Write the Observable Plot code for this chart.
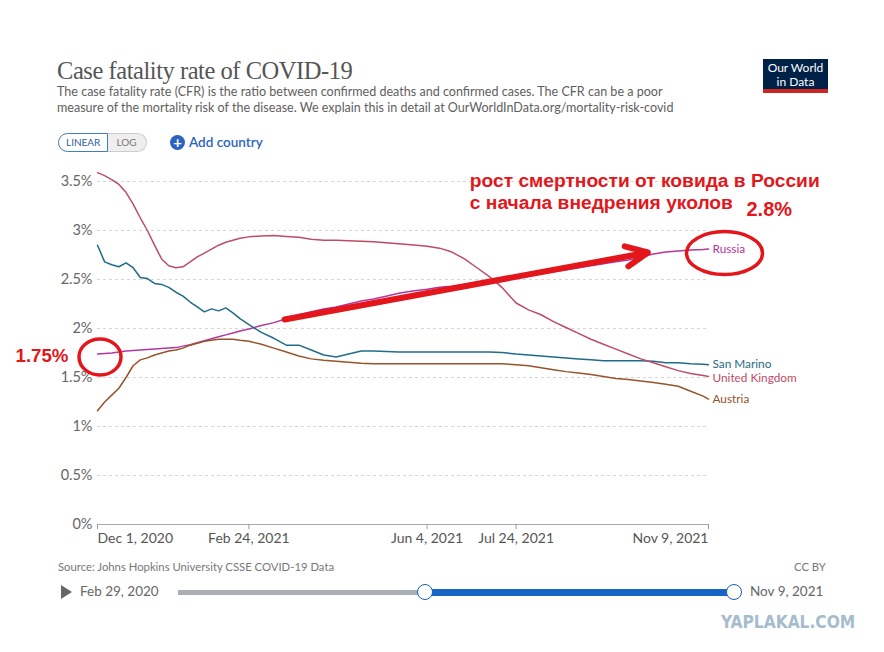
<!DOCTYPE html>
<html><head><meta charset="utf-8">
<script src="https://cdn.jsdelivr.net/npm/d3@7"></script>
<script src="https://cdn.jsdelivr.net/npm/@observablehq/plot@0.6"></script>
<style>
body{margin:0;background:#fff;font-family:Lato,"Noto Sans",sans-serif;}
#wrap{position:relative;width:884px;height:652px;overflow:hidden;background:#fff;}
.abs{position:absolute;white-space:nowrap;}
#title{left:57px;top:56px;font-family:"Liberation Serif",serif;font-size:24.5px;color:#555;line-height:30px;letter-spacing:-0.45px;}
#sub{left:57px;top:84px;font-size:12.55px;color:#5e5e5e;line-height:16px;}
#logo{left:763px;top:59px;width:65px;height:34px;background:#002147;color:#fff;text-align:center;font-size:12px;line-height:13.5px;box-sizing:border-box;padding-top:2px;border-bottom:4px solid #ce261e;}
#toggle{left:58px;top:133px;height:19px;display:flex;font-size:10px;}
#toggle .lin{border:1px solid #3d7ec6;border-radius:10px 0 0 10px;color:#2e5f9e;padding:0 7px;line-height:17px;background:#fff;}
#toggle .log{border:1px solid #ccc;border-left:none;border-radius:0 10px 10px 0;color:#777;padding:0 9px 0 8px;line-height:17px;background:#efefef;}
#add{left:170px;top:133px;font-size:13.5px;color:#2a64c0;line-height:18px;display:flex;align-items:center;font-weight:600;}
#add .ic{width:15px;height:15px;border-radius:50%;background:#2a64c0;color:#fff;font-size:15px;line-height:15px;text-align:center;margin-right:4px;font-weight:bold;}
#plot{left:0;top:160px;}
#src{left:58px;top:560px;font-size:11.3px;color:#777;}
#cc{left:794px;top:560px;font-size:11.3px;color:#777;}
#play{left:61px;top:585px;width:0;height:0;border-top:7px solid transparent;border-bottom:7px solid transparent;border-left:11px solid #666;}
#d0{left:80px;top:583px;font-size:13.5px;color:#666;}
#d1{left:750px;top:583px;font-size:13.5px;color:#666;}
#trackg{left:178px;top:590px;width:247px;height:5px;background:#a9aeb4;}
#trackb{left:425px;top:589px;width:309px;height:7px;background:#1766c6;}
.h{width:14px;height:14px;border-radius:50%;background:#fff;border:1.5px solid #1a5fb4;top:584px;}
#wm{left:721px;top:612px;font-family:"DejaVu Sans Condensed","DejaVu Sans",sans-serif;font-stretch:condensed;font-weight:bold;font-size:17.2px;color:#a5bccd;line-height:20px;}
</style></head><body>
<div id="wrap">
  <div id="title" class="abs">Case fatality rate of COVID-19</div>
  <div id="sub" class="abs">The case fatality rate (CFR) is the ratio between confirmed deaths and confirmed cases. The CFR can be a poor<br>measure of the mortality risk of the disease. We explain this in detail at OurWorldInData.org/mortality-risk-covid</div>
  <div id="logo" class="abs">Our World<br>in Data</div>
  <div id="toggle" class="abs"><div class="lin">LINEAR</div><div class="log">LOG</div></div>
  <div id="add" class="abs"><div class="ic">+</div>Add country</div>
  <div id="plot" class="abs"></div>
  <div id="src" class="abs">Source: Johns Hopkins University CSSE COVID-19 Data</div>
  <div id="cc" class="abs">CC BY</div>
  <div id="play" class="abs"></div>
  <div id="d0" class="abs">Feb 29, 2020</div>
  <div id="trackg" class="abs"></div>
  <div id="trackb" class="abs"></div>
  <div class="abs h" style="left:417px"></div>
  <div class="abs h" style="left:726px"></div>
  <div id="d1" class="abs">Nov 9, 2021</div>
  <div id="wm" class="abs">YAPLAKAL.COM</div>
</div>
<script>
const dates = ["2020-12-01","2020-12-05","2020-12-09","2020-12-13","2020-12-17","2020-12-21","2020-12-25","2020-12-29",
"2021-01-02","2021-01-06","2021-01-10","2021-01-14","2021-01-18","2021-01-22","2021-01-26","2021-01-30",
"2021-02-03","2021-02-07","2021-02-11","2021-02-15","2021-02-19","2021-02-24",
"2021-03-03","2021-03-10","2021-03-17","2021-03-24","2021-03-31",
"2021-04-07","2021-04-14","2021-04-21","2021-04-28",
"2021-05-05","2021-05-12","2021-05-19","2021-05-26",
"2021-06-04","2021-06-11","2021-06-18","2021-06-25",
"2021-07-02","2021-07-09","2021-07-16","2021-07-24","2021-07-31",
"2021-08-07","2021-08-14","2021-08-21","2021-08-28",
"2021-09-04","2021-09-11","2021-09-18","2021-09-25",
"2021-10-02","2021-10-09","2021-10-16","2021-10-23","2021-10-30",
"2021-11-06","2021-11-09"];

const unitedKingdom = [3.59,3.56,3.52,3.47,3.39,3.27,3.13,3.00,
2.85,2.71,2.64,2.62,2.63,2.68,2.73,2.77,
2.81,2.85,2.88,2.90,2.92,2.935,
2.945,2.95,2.94,2.93,2.91,
2.90,2.90,2.895,2.89,
2.885,2.875,2.865,2.855,
2.84,2.82,2.78,2.71,
2.62,2.53,2.42,2.26,2.19,
2.14,2.07,2.01,1.95,
1.89,1.84,1.79,1.74,
1.69,1.65,1.61,1.57,1.54,
1.52,1.51];

const sanMarino = [2.85,2.68,2.65,2.63,2.67,2.62,2.52,2.51,
2.46,2.45,2.42,2.37,2.33,2.27,2.22,2.17,
2.20,2.18,2.21,2.16,2.10,2.04,
1.96,1.90,1.83,1.83,1.78,
1.73,1.71,1.74,1.77,
1.77,1.765,1.76,1.76,
1.76,1.76,1.76,1.76,
1.76,1.76,1.755,1.74,1.73,
1.72,1.71,1.70,1.69,
1.68,1.67,1.67,1.67,
1.67,1.665,1.65,1.65,1.64,
1.635,1.63];

const austria = [1.16,1.25,1.32,1.39,1.50,1.62,1.68,1.70,
1.73,1.75,1.77,1.78,1.80,1.83,1.85,1.87,
1.88,1.89,1.89,1.89,1.88,1.87,
1.84,1.80,1.76,1.72,1.69,
1.675,1.665,1.655,1.645,
1.64,1.64,1.64,1.64,
1.64,1.64,1.64,1.64,
1.64,1.64,1.64,1.63,1.62,
1.60,1.58,1.56,1.545,
1.53,1.51,1.49,1.48,
1.465,1.45,1.43,1.41,1.36,
1.31,1.28];

const russia = [1.74,1.745,1.75,1.76,1.77,1.775,1.78,1.785,
1.79,1.795,1.80,1.805,1.82,1.835,1.855,1.875,
1.895,1.915,1.935,1.955,1.975,1.995,
2.03,2.06,2.10,2.14,2.17,
2.20,2.22,2.25,2.28,
2.30,2.33,2.36,2.38,
2.40,2.42,2.43,2.45,
2.46,2.48,2.50,2.52,2.54,
2.56,2.58,2.60,2.62,
2.64,2.66,2.68,2.70,
2.73,2.76,2.78,2.79,2.80,
2.805,2.81];

const seriesNames = ["Russia","San Marino","United Kingdom","Austria"];
const seriesValues = [russia, sanMarino, unitedKingdom, austria];
const seriesColors = ["#b4369f","#1f6c88","#bd4c66","#98532c"];

const yTicks = [0,0.5,1,1.5,2,2.5,3,3.5];
const xTicks = ["2020-12-01","2021-02-24","2021-06-04","2021-07-24","2021-11-09"];

const annTitle1 = "рост смертности от ковида в России";
const annTitle2 = "с начала внедрения уколов";
const annEnd = "2.8%";
const annStart = "1.75%";

const parse = d3.utcParse("%Y-%m-%d");
const fmt = d3.utcFormat("%b %-d, %Y");
const rows = seriesNames.flatMap((name, i) =>
  dates.map((d, j) => ({name, date: parse(d), value: seriesValues[i][j]})));
const labelShift = {"Russia": 0, "San Marino": -1, "United Kingdom": 1.5, "Austria": 0};
const lastRows = seriesNames.map((name, i) => ({name, date: parse(dates[dates.length-1]), value: seriesValues[i][dates.length-1]}));
const xt = xTicks.map(parse);
const red = "#e3161b";
const annFont = "'Liberation Sans', Arial, sans-serif";

const chart = Plot.plot({
  width: 884, height: 400,
  marginLeft: 97, marginRight: 176, marginTop: 11.2, marginBottom: 36,
  style: {fontFamily: "Lato, 'Noto Sans', sans-serif", background: "transparent", overflow: "visible"},
  x: {type: "utc", domain: [parse(dates[0]), parse(dates[dates.length-1])]},
  y: {domain: [0, 3.6]},
  color: {domain: seriesNames, range: seriesColors},
  marks: [
    Plot.gridY(yTicks.filter(d => d > 0), {stroke: "#d6d6d6", strokeOpacity: 1, strokeDasharray: "3,3"}),
    Plot.axisY(yTicks, {tickSize: 0, tickPadding: 5, tickFormat: d => d + "%", fontSize: 14.5, fill: "#666", label: null}),
    Plot.ruleY([0], {stroke: "#aaa"}),
    Plot.axisX([xt[0]], {tickSize: 5, tickPadding: 4, stroke: "#999", fill: "#555", fontSize: 14, tickFormat: fmt, textAnchor: "start", label: null}),
    Plot.axisX(xt.slice(1, 4), {tickSize: 5, tickPadding: 4, stroke: "#999", fill: "#555", fontSize: 14, tickFormat: fmt, label: null}),
    Plot.axisX([xt[4]], {tickSize: 5, tickPadding: 4, stroke: "#999", fill: "#555", fontSize: 14, tickFormat: fmt, textAnchor: "end", label: null}),
    Plot.line(rows, {x: "date", y: "value", z: "name", stroke: "name", strokeWidth: 1.5}),
    ...lastRows.map(r => Plot.text([r], {x: "date", y: "value", text: "name", fill: "name", dx: 4, dy: labelShift[r.name], textAnchor: "start", fontSize: 11.8})),
    Plot.arrow([{x1: parse("2021-03-16"), y1: 2.092, x2: parse("2021-10-06"), y2: 2.776}],
      {x1: "x1", y1: "y1", x2: "x2", y2: "y2", stroke: red, strokeWidth: 6, headLength: 6, headAngle: 50}),
    Plot.text([annTitle1], {x: parse("2021-06-28"), y: 3.51, text: d => d, textAnchor: "start", fill: red, fontSize: 19.2, fontWeight: "bold", fontFamily: annFont}),
    Plot.text([annTitle2], {x: parse("2021-06-28"), y: 3.285, text: d => d, textAnchor: "start", fill: red, fontSize: 19.2, fontWeight: "bold", fontFamily: annFont}),
    Plot.text([annEnd], {x: parse(dates[dates.length-1]), y: 3.215, dx: 38, text: d => d, textAnchor: "start", fill: red, fontSize: 20, fontWeight: "bold", fontFamily: annFont}),
    Plot.text([annStart], {x: parse(dates[0]), y: 1.722, dx: -29, text: d => d, textAnchor: "end", fill: red, fontSize: 18.7, fontWeight: "bold", fontFamily: annFont})
  ]
});
document.getElementById("plot").appendChild(chart);

const X = chart.scale("x"), Y = chart.scale("y");
const svg = d3.select(chart);
const ells = [
  {cx: X.apply(parse(dates[dates.length-1])) + 16.5, cy: Y.apply(russia[russia.length-1]) + 4.5, rx: 38, ry: 21.5},
  {cx: X.apply(parse(dates[0])) + 3, cy: Y.apply(russia[0]) + 3.5, rx: 21, ry: 18}
];
svg.append("g").selectAll("ellipse").data(ells).join("ellipse")
  .attr("cx", d => d.cx).attr("cy", d => d.cy).attr("rx", d => d.rx).attr("ry", d => d.ry)
  .attr("fill", "none").attr("stroke", red).attr("stroke-width", 3.5);
</script>
</body></html>
